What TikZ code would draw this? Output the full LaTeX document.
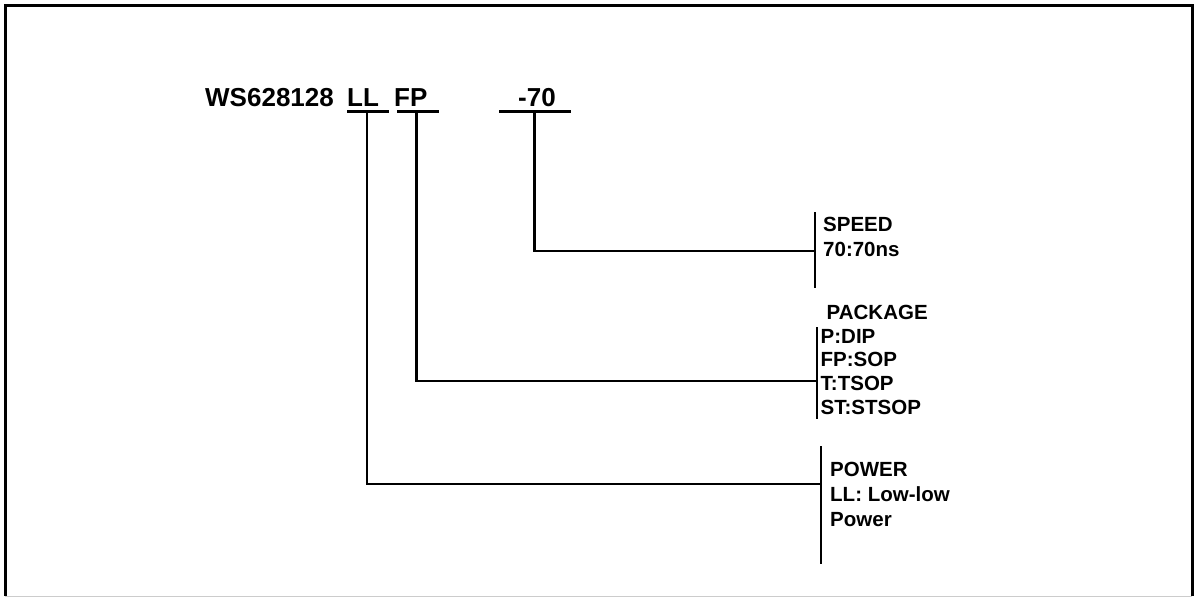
\documentclass[tikz,border=0pt]{standalone}
\usepackage{fontspec}
\setmainfont{Liberation Sans}
\begin{document}
\begin{tikzpicture}[x=1pt,y=-1pt,
  wire/.style={line width=2.4pt, line cap=rect},
  title/.style={font=\bfseries\fontsize{26}{30}\selectfont, inner sep=0pt, anchor=base west},
  lbl/.style={font=\bfseries\fontsize{20.5}{25}\selectfont, inner sep=0pt, anchor=north west, align=left}]
\useasboundingbox (0,0) rectangle (1196,597);
% frame
\draw[line width=3pt] (5,596) -- (5,5) -- (1192,5) -- (1192,596);
\draw[line width=1pt, black!20] (5,596) -- (1192,596);
% part number
\node[title] (ws) at (205,106) {WS628128};
\node[title] (ll) at (347,106) {LL};
\node[title] (fp) at (394,106) {FP};
\node[title] (sp) at (518,106) {-70};
% underline coordinates
\coordinate (llA) at (348,111.5); \coordinate (llB) at (388,111.5); \coordinate (llM) at (367,111.5);
\coordinate (fpA) at (398,111.5); \coordinate (fpB) at (438,111.5); \coordinate (fpM) at (416.5,111.5);
\coordinate (spA) at (500,111.5); \coordinate (spB) at (570,111.5); \coordinate (spM) at (534.5,111.5);
\draw[wire] (llA) -- (llB);
\draw[wire] (fpA) -- (fpB);
\draw[wire] (spA) -- (spB);
% brackets
\coordinate (spdT) at (815,213); \coordinate (spdB) at (815,287); \coordinate (spdJ) at (815,251);
\coordinate (pkgT) at (817,328); \coordinate (pkgB) at (817,418); \coordinate (pkgJ) at (817,381);
\coordinate (pwrT) at (821,447); \coordinate (pwrB) at (821,563); \coordinate (pwrJ) at (821,484);
\draw[wire] (spdT) -- (spdB);
\draw[wire] (pkgT) -- (pkgB);
\draw[wire] (pwrT) -- (pwrB);
% connectors
\draw[wire] (spM) |- (spdJ);
\draw[wire] (fpM) |- (pkgJ);
\draw[wire] (llM) |- (pwrJ);
% labels
\node[lbl] (speed) at (823,217) {SPEED\\70:70ns};
\node[lbl, font=\bfseries\fontsize{20.5}{23.7}\selectfont] (pkg) at (820.5,305) {\hspace*{6pt}PACKAGE\\P:DIP\\FP:SOP\\T:TSOP\\ST:STSOP};
\node[lbl] (power) at (830,462) {POWER\\LL: Low-low\\Power};
\end{tikzpicture}
\end{document}
